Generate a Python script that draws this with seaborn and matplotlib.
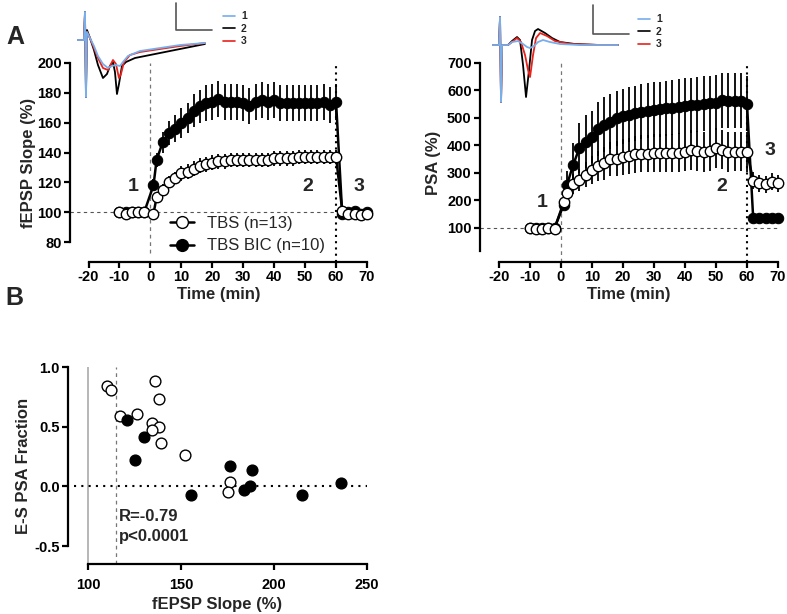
import matplotlib
matplotlib.use("Agg")
import pandas as pd
import matplotlib.pyplot as plt
import seaborn as sns
from matplotlib.lines import Line2D

# ---- time course data (min) ----
t_base = [-10, -8, -6, -4, -2]
t_post = [1, 2, 4, 6, 8, 10, 12, 14, 16, 18, 20, 22, 24, 26, 28, 30, 32, 34, 36, 38,
          40, 42, 44, 46, 48, 50, 52, 54, 56, 58, 60]
t_wash = [62, 64, 66, 68, 70]

# fEPSP slope (%)
slope_tbs = [100, 99, 100, 100, 100,
             99, 110, 115, 120, 123, 126, 127, 129, 131, 132, 133, 134, 134, 135, 135, 135,
             135, 135, 135, 135, 136, 136, 136, 136, 137, 137, 137, 137, 137, 137, 137,
             101, 99, 99, 98, 99]
slope_tbs_err = [1, 1, 1, 1, 1,
                 2, 3, 4, 4, 4, 5, 5, 5, 5, 5, 5, 5, 5, 5, 5, 5,
                 5, 5, 5, 5, 5, 5, 5, 5, 5, 5, 5, 5, 5, 5, 5,
                 2, 2, 2, 2, 2]
slope_bic = [100, 100, 100, 100, 100,
             118, 135, 147, 153, 156, 160, 163, 168, 171, 173, 174, 176, 174, 174, 174, 173,
             171, 174, 175, 174, 175, 173, 173, 173, 173, 173, 173, 173, 174, 172, 174,
             99, 100, 101, 99, 100]
slope_bic_err = [1, 1, 1, 1, 1,
                 4, 5, 7, 8, 9, 10, 10, 11, 11, 12, 12, 12, 12, 12, 12, 12,
                 12, 12, 12, 12, 12, 12, 12, 12, 12, 12, 12, 12, 12, 12, 12,
                 2, 2, 2, 2, 2]

# population spike amplitude (%)
psa_tbs = [100, 95, 97, 100, 97,
           195, 228, 260, 275, 293, 311, 325, 335, 350, 352, 357, 362, 368, 370, 370, 372,
           372, 373, 373, 374, 376, 383, 380, 376, 380, 390, 385, 377, 378, 378, 377,
           272, 262, 258, 268, 262]
psa_tbs_err = [5, 5, 5, 5, 5,
               15, 25, 35, 40, 45, 50, 55, 60, 62, 64, 65, 66, 67, 68, 68, 69,
               70, 70, 70, 70, 70, 72, 72, 72, 72, 72, 72, 72, 72, 72, 72,
               30, 30, 30, 30, 30]
psa_bic = [100, 100, 100, 100, 100,
           185, 256, 329, 390, 414, 432, 459, 475, 487, 499, 507, 512, 517, 522, 526, 530,
           532, 535, 538, 541, 544, 547, 549, 551, 553, 555, 565, 562, 562, 563, 552,
           135, 135, 135, 135, 137]
psa_bic_err = [5, 5, 5, 5, 5,
               20, 50, 80, 90, 95, 95, 98, 100, 100, 100, 100, 100, 100, 100, 100, 100,
               100, 100, 100, 100, 100, 100, 100, 100, 100, 100, 100, 100, 100, 100, 100,
               6, 6, 6, 6, 6]

# ---- scatter data (panel B) ----
scat_tbs_x = [110, 112, 136, 138, 117, 126, 134, 138, 134, 139, 152, 176, 175]
scat_tbs_y = [0.84, 0.81, 0.88, 0.73, 0.59, 0.61, 0.53, 0.50, 0.47, 0.36, 0.26, 0.04, -0.05]
scat_bic_x = [121, 130, 125, 176, 188, 236, 155, 184, 187, 215]
scat_bic_y = [0.56, 0.41, 0.22, 0.17, 0.14, 0.03, -0.07, -0.03, 0.00, -0.07]

# ---- example traces (ms, mV) ----
lt_black = [0, 1.4, 1.6, 1.8, 2.0, 2.6, 3.4, 4.2, 5.2, 6.0, 6.6, 7.2, 7.6, 8.0, 8.4, 9.0, 9.8, 11.6, 14.6, 18.6, 22.6, 25.6]
lv_black = [0, 0, 1.4, -2.85, 0.5, 0.1, -0.5, -1.25, -1.9, -1.7, -1.3, -1.1, -1.6, -2.7, -2.2, -1.3, -1.1, -0.9, -0.75, -0.55, -0.35, -0.2]
lt_red = [0, 1.4, 1.6, 1.8, 2.0, 2.6, 3.4, 4.2, 5.2, 6.2, 6.8, 7.2, 7.8, 8.4, 8.8, 9.4, 10.6, 12.6, 16.6, 20.6, 25.6]
lv_red = [0, 0, 1.3, -2.5, 0.4, 0.1, -0.4, -0.9, -1.4, -1.5, -1.2, -1.0, -1.2, -1.9, -1.7, -1.1, -0.75, -0.6, -0.45, -0.3, -0.15]
lt_blue = [0, 1.4, 1.6, 1.8, 2.0, 2.6, 3.4, 4.2, 5.2, 6.2, 7.0, 7.8, 8.6, 9.2, 10.2, 12.6, 16.6, 20.6, 25.6]
lv_blue = [0, 0, 1.4, -2.85, 0.4, 0.1, -0.3, -0.8, -1.2, -1.4, -1.3, -1.25, -1.3, -1.1, -0.8, -0.55, -0.4, -0.25, -0.15]

rt_black = [0, 1.4, 1.6, 1.8, 2.0, 3.2, 4.0, 5.0, 5.6, 6.2, 6.8, 7.4, 8.0, 8.6, 9.2, 10.6, 12.0, 13.6, 16.6, 21.6, 25.2]
rv_black = [0, 0, 1.4, -2.85, 0, 0, 0.2, 0.4, 0.25, -1.0, -2.6, -1.25, 0.25, 0.7, 0.8, 0.6, 0.35, 0.15, 0.05, 0, 0]
rt_red = [0, 1.4, 1.6, 1.8, 2.0, 3.2, 4.0, 5.0, 5.8, 6.6, 7.2, 7.6, 8.2, 8.8, 9.6, 11.0, 12.6, 15.6, 21.6, 25.2]
rv_red = [0, 0, 1.4, -2.85, 0, 0, 0.15, 0.35, 0.15, -0.5, -1.25, -1.6, -0.5, 0.35, 0.6, 0.45, 0.2, 0.05, 0, 0]
rt_blue = [0, 1.4, 1.6, 1.8, 2.0, 3.2, 4.0, 5.2, 6.2, 7.0, 7.6, 8.4, 9.2, 10.2, 11.6, 13.6, 17.6, 25.2]
rv_blue = [0, 0, 1.4, -2.85, 0, 0, 0.15, 0.2, 0.05, -0.1, -0.15, -0.05, 0.15, 0.25, 0.15, 0.05, 0, 0]

BLUE = "#78aeea"
RED = "#e8231c"

sns.set_style("ticks")
plt.rcParams["font.family"] = ["Liberation Sans", "DejaVu Sans"]
plt.rcParams["font.weight"] = "bold"
plt.rcParams["axes.labelweight"] = "bold"
plt.rcParams["axes.unicode_minus"] = False
plt.rcParams["axes.linewidth"] = 1.6
plt.rcParams["xtick.major.width"] = 1.6
plt.rcParams["ytick.major.width"] = 1.6
plt.rcParams["xtick.major.size"] = 4
plt.rcParams["ytick.major.size"] = 4
plt.rcParams["xtick.color"] = "black"
plt.rcParams["ytick.color"] = "black"
plt.rcParams["axes.edgecolor"] = "black"

fig = plt.figure(figsize=(7.87, 6.14), dpi=100)

times = t_base + t_post + t_wash
df = pd.DataFrame({"time": times,
                   "slope_tbs": slope_tbs, "slope_bic": slope_bic,
                   "psa_tbs": psa_tbs, "psa_bic": psa_bic})


def time_panel(rect, col_tbs, err_tbs, col_bic, err_bic, ylim, ybounds, yticks, ylabel,
               ylabelpad, zero_bottom):
    ax = fig.add_axes(rect)
    ax.errorbar(df["time"], df[col_bic], yerr=err_bic, fmt="none", ecolor="black",
                elinewidth=1.3, zorder=2, clip_on=False)
    sns.lineplot(data=df, x="time", y=col_bic, ax=ax, sort=False, color="black", lw=1.8,
                 marker="o", ms=7.5, markerfacecolor="black", markeredgecolor="black",
                 zorder=3, clip_on=False)
    ax.errorbar(df["time"], df[col_tbs], yerr=err_tbs, fmt="none", ecolor="black",
                elinewidth=1.3, zorder=4, clip_on=False)
    sns.lineplot(data=df, x="time", y=col_tbs, ax=ax, sort=False, color="black", lw=1.8,
                 marker="o", ms=7.5, markerfacecolor="white", markeredgecolor="black",
                 markeredgewidth=1.0, zorder=5, clip_on=False)
    ax.set_xlim(-26, 70)
    ax.set_ylim(*ylim)
    ax.set_xticks([-20, -10, 0, 10, 20, 30, 40, 50, 60, 70])
    ax.set_yticks(yticks)
    ax.spines["left"].set_bounds(*ybounds)
    ax.spines["bottom"].set_bounds(-20, 70)
    sns.despine(ax=ax)
    ax.axhline(100, color="#555555", lw=0.8, ls=(0, (3, 3)), zorder=1)
    ax.vlines(0, zero_bottom, ylim[1], color="#777777", lw=0.9, ls=(0, (3, 3)), zorder=1)
    ax.vlines(60, ylim[0], ylim[1], color="black", lw=1.5, ls=(0, (1, 2)), zorder=1)
    ax.set_xlabel("Time (min)", fontsize=12, labelpad=2)
    ax.set_ylabel(ylabel, fontsize=12, labelpad=ylabelpad)
    ax.tick_params(labelsize=10.5, pad=2)
    return ax


axA1 = time_panel([0.0889, 0.5733, 0.3774, 0.3241], "slope_tbs", slope_tbs_err,
                  "slope_bic", slope_bic_err, (66.6, 200), (80, 200),
                  [80, 100, 120, 140, 160, 180, 200], "fEPSP Slope (%)", 1, 72.5)
for lab, x in [("1", -5.5), ("2", 51), ("3", 67.5)]:
    axA1.text(x, 117, lab, fontsize=14, ha="center", va="center", fontweight="bold")
handles = [Line2D([], [], color="black", lw=1.8, marker="o", ms=8.5, markerfacecolor="white",
                  markeredgecolor="black"),
           Line2D([], [], color="black", lw=1.8, marker="o", ms=8.5, markerfacecolor="black",
                  markeredgecolor="black")]
axA1.legend(handles, ["TBS (n=13)", "TBS BIC (n=10)"], loc="upper left",
            bbox_to_anchor=(0.315, 0.265), frameon=False, handlelength=1.4,
            prop={"weight": "normal", "size": 12}, labelspacing=0.45,
            handletextpad=0.8, borderaxespad=0)

axA2 = time_panel([0.6099, 0.5733, 0.3787, 0.3241], "psa_tbs", psa_tbs_err,
                  "psa_bic", psa_bic_err, (-24, 700), (15, 700),
                  [100, 200, 300, 400, 500, 600, 700], "PSA (%)", 4, -24)
for lab, x, y in [("1", -6, 191), ("2", 52, 250), ("3", 67.5, 383)]:
    axA2.text(x, y, lab, fontsize=14, ha="center", va="center", fontweight="bold")

# ---- inset traces ----
def trace_inset(rect, ylim, tr, bar_t, bar_v):
    ax = fig.add_axes(rect)
    for t, v, c in tr:
        ax.plot(t, v, color=c, lw=1.3)
    ax.plot([bar_t, bar_t, bar_t + 7.2], [bar_v[0], bar_v[1], bar_v[1]], color="#555555", lw=1.2)
    hs = [Line2D([], [], color=BLUE, lw=1.2), Line2D([], [], color="black", lw=1.2),
          Line2D([], [], color=RED, lw=1.2)]
    ax.legend(hs, ["1", "2", "3"], loc="upper left", bbox_to_anchor=(0.79, 0.93),
              frameon=False, handlelength=1.1, handletextpad=0.6, labelspacing=0.25,
              prop={"weight": "bold", "size": 7.5}, borderaxespad=0)
    ax.set_xlim(0, 36)
    ax.set_ylim(*ylim)
    ax.axis("off")


trace_inset([0.0978, 0.8371, 0.2287, 0.1629], (-3.0, 2.0),
            [(lt_black, lv_black, "black"), (lt_red, lv_red, RED), (lt_blue, lv_blue, BLUE)],
            19.8, (1.85, 0.5))
trace_inset([0.6252, 0.8322, 0.2287, 0.1629], (-2.9, 2.1),
            [(rt_black, rv_black, "black"), (rt_red, rv_red, RED), (rt_blue, rv_blue, BLUE)],
            20.2, (2.0, 0.55))

# ---- panel B ----
axB = fig.add_axes([0.0864, 0.0814, 0.3799, 0.3208])
axB.vlines(100, -0.65, 1.0, color="#aaaaaa", lw=1.2, zorder=1)
axB.vlines(115, -0.65, 1.0, color="#777777", lw=0.9, ls=(0, (3, 3)), zorder=1)
axB.hlines(0, 92, 250, color="black", lw=1.5, ls=(0, (1, 2.5)), zorder=1)
sns.scatterplot(x=scat_tbs_x, y=scat_tbs_y, ax=axB, color="white", edgecolor="black",
                s=60, linewidth=1.0, zorder=3, clip_on=False)
sns.scatterplot(x=scat_bic_x, y=scat_bic_y, ax=axB, color="black", edgecolor="black",
                s=60, linewidth=1.0, zorder=3, clip_on=False)
axB.set_xlim(89, 250)
axB.set_ylim(-0.65, 1.0)
axB.set_xticks([100, 150, 200, 250])
axB.set_yticks([-0.5, 0.0, 0.5, 1.0])
axB.set_yticklabels(["-0.5", "0.0", "0.5", "1.0"])
axB.spines["left"].set_bounds(-0.5, 1.0)
axB.spines["bottom"].set_bounds(100, 250)
sns.despine(ax=axB)
axB.set_xlabel("fEPSP Slope (%)", fontsize=12, labelpad=4)
axB.set_ylabel("E-S PSA Fraction", fontsize=12, labelpad=2)
axB.tick_params(labelsize=10.5, pad=2)
axB.tick_params(axis="x", pad=6)
axB.text(116.5, -0.25, "R=-0.79", fontsize=12, fontweight="bold", ha="left", va="center")
axB.text(116.5, -0.42, "p<0.0001", fontsize=12, fontweight="bold", ha="left", va="center")

fig.text(0.019, 0.94, "A", fontsize=18, fontweight="bold", ha="center", va="center")
fig.text(0.018, 0.515, "B", fontsize=18, fontweight="bold", ha="center", va="center")

fig.savefig("out.png", dpi=100)
